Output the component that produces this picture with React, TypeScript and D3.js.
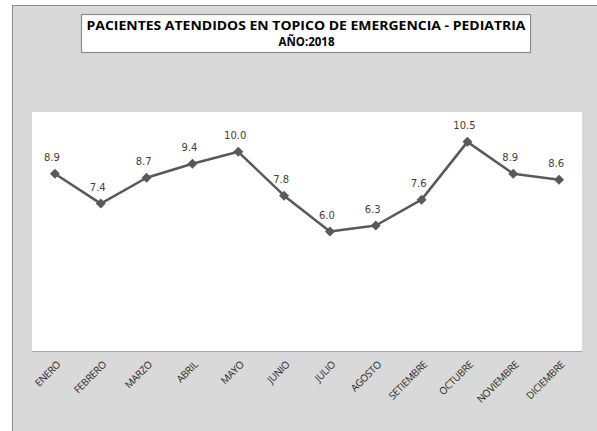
import * as d3 from "d3";
import { useEffect, useRef } from "react";

const months = ["ENERO", "FEBRERO", "MARZO", "ABRIL", "MAYO", "JUNIO", "JULIO", "AGOSTO", "SETIEMBRE", "OCTUBRE", "NOVIEMBRE", "DICIEMBRE"];
const patients = [8.9, 7.4, 8.7, 9.4, 10.0, 7.8, 6.0, 6.3, 7.6, 10.5, 8.9, 8.6];
const titleLines = ["PACIENTES ATENDIDOS EN TOPICO DE EMERGENCIA - PEDIATRIA", "AÑO:2018"];

const width = 597;
const height = 431;
const plot = { left: 32, right: 582, top: 112, bottom: 351 };

const App = () => {
    const svgRef = useRef<SVGSVGElement>(null);

    useEffect(() => {
        const svg = d3.select(svgRef.current);
        svg.selectAll("*").remove();

        // outer chart frame
        svg.append("rect")
            .attr("x", 12.5).attr("y", 5.5)
            .attr("width", width).attr("height", height)
            .attr("fill", "#d9d9d9")
            .attr("stroke", "#8c8c8c")
            .attr("stroke-width", 1);

        // title box
        svg.append("rect")
            .attr("x", 81.5).attr("y", 14.5)
            .attr("width", 449).attr("height", 38)
            .attr("fill", "#fff")
            .attr("stroke", "#8c8c8c")
            .attr("stroke-width", 1.2);

        const title = svg.append("g")
            .attr("font-family", "'Open Sans', sans-serif")
            .attr("font-weight", "bold")
            .attr("font-size", 11.5)
            .attr("fill", "#000")
            .attr("text-anchor", "middle");
        title.append("text").attr("x", 306).attr("y", 29.5)
            .attr("textLength", 439).attr("lengthAdjust", "spacingAndGlyphs")
            .text(titleLines[0]);
        title.append("text").attr("x", 306.5).attr("y", 45.5)
            .text(titleLines[1]);

        // plot area
        svg.append("rect")
            .attr("x", plot.left).attr("y", plot.top)
            .attr("width", plot.right - plot.left)
            .attr("height", plot.bottom - plot.top)
            .attr("fill", "#fff");

        const x = d3.scaleBand().domain(months).range([plot.left, plot.right]);
        const y = d3.scaleLinear().domain([0, 12]).range([plot.bottom, plot.top]);
        const cx = (m: string) => (x(m) ?? 0) + x.bandwidth() / 2;

        svg.append("line")
            .attr("x1", plot.left).attr("x2", plot.right)
            .attr("y1", plot.bottom + 0.5).attr("y2", plot.bottom + 0.5)
            .attr("stroke", "#a6a6a6")
            .attr("stroke-width", 1);

        // category labels
        svg.append("g")
            .attr("font-family", "'Open Sans', sans-serif")
            .attr("font-size", 10)
            .attr("letter-spacing", -0.3)
            .attr("fill", "#262626")
            .selectAll("text")
            .data(months)
            .join("text")
            .attr("transform", d => `translate(${cx(d) + 2},${plot.bottom + 10}) rotate(-45)`)
            .attr("text-anchor", "end")
            .attr("dy", "0.6em")
            .text(d => d);

        const pts = months.map((m, i) => ({ m, v: patients[i] }));

        const line = d3.line<{ m: string; v: number }>()
            .x(d => cx(d.m))
            .y(d => y(d.v));

        svg.append("path")
            .datum(pts)
            .attr("fill", "none")
            .attr("stroke", "#595959")
            .attr("stroke-width", 2.5)
            .attr("stroke-linejoin", "round")
            .attr("d", line);

        const diamond = d3.symbol(d3.symbolSquare, 50);
        svg.append("g")
            .selectAll("path")
            .data(pts)
            .join("path")
            .attr("transform", d => `translate(${cx(d.m)},${y(d.v)}) rotate(45)`)
            .attr("d", diamond)
            .attr("fill", "#595959");

        // value labels
        svg.append("g")
            .attr("font-family", "'DejaVu Sans', sans-serif")
            .attr("font-size", 10)
            .attr("fill", "#404040")
            .attr("text-anchor", "middle")
            .selectAll("text")
            .data(pts)
            .join("text")
            .attr("x", d => cx(d.m) - 3)
            .attr("y", d => y(d.v) - 13)
            .text(d => d.v.toFixed(1));
    }, []);

    return (
        <svg ref={svgRef} width={width} height={height}
            style={{ position: "absolute", left: 0, top: 0, background: "#fff" }} />
    );
};

export default App;
